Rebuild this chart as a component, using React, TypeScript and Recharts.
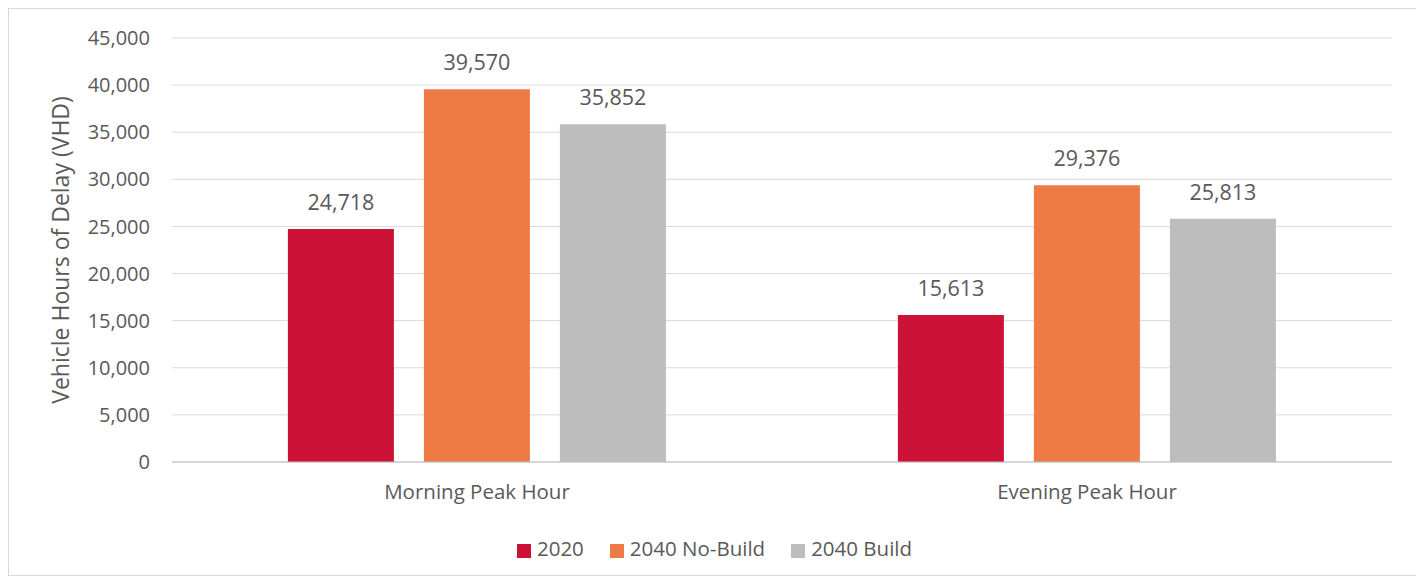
import { BarChart, Bar, XAxis, YAxis, CartesianGrid, Legend, LabelList } from 'recharts';

// Vehicle hours of delay, by peak period and scenario
const periods = ['Morning Peak Hour', 'Evening Peak Hour'];
const base2020 = [24718, 15613];
const noBuild2040 = [39570, 29376];
const build2040 = [35852, 25813];
const yTicks = [0, 5000, 10000, 15000, 20000, 25000, 30000, 35000, 40000, 45000];
const seriesOrder = ['2020', '2040 No-Build', '2040 Build'];

const data = periods.map((p, i) => ({
  period: p,
  y2020: base2020[i],
  noBuild: noBuild2040[i],
  build: build2040[i],
}));

const fmt = (v: number) => v.toLocaleString('en-US');
const font = '"Open Sans", sans-serif';
const textColor = '#595959';

const App = () => {
  return (
    <div style={{ width: 1408, height: 566, border: '1px solid #d9d9d9', fontFamily: font }}>
      <style>{`
        .recharts-legend-item { margin-right: 26px !important; }
        .recharts-legend-item:last-child { margin-right: 0 !important; }
        .recharts-legend-item svg { margin-right: 6px !important; }
      `}</style>
      <BarChart
        width={1408}
        height={566}
        data={data}
        margin={{ top: 29, right: 25, left: 28, bottom: 11 }}
        barCategoryGap="19%"
        barGap={30}
      >
        <CartesianGrid vertical={false} stroke="#d9d9d9" />
        <XAxis
          dataKey="period"
          height={72}
          tickLine={false}
          axisLine={{ stroke: '#bfbfbf' }}
          tickMargin={16}
          tick={{ fill: textColor, fontSize: 20.5, fontFamily: font }}
        />
        <YAxis
          width={135}
          domain={[0, 45000]}
          ticks={yTicks}
          interval={0}
          tickFormatter={fmt}
          tickLine={false}
          axisLine={false}
          tickMargin={16}
          tick={{ fill: textColor, fontSize: 20, fontFamily: font }}
          label={{
            value: 'Vehicle Hours of Delay (VHD)',
            angle: -90,
            position: 'insideLeft',
            offset: 24,
            style: { textAnchor: 'middle', fill: textColor, fontSize: 23, fontFamily: font },
          }}
        />
        <Legend
          verticalAlign="bottom"
          height={30}
          iconType="square"
          iconSize={14}
          itemSorter={(item: any) => seriesOrder.indexOf(item.value)}
          wrapperStyle={{ fontSize: 20.5, fontFamily: font, color: textColor }}
          formatter={(value) => <span style={{ color: textColor }}>{value}</span>}
        />
        <Bar dataKey="y2020" name="2020" fill="#CC1237" isAnimationActive={false}>
          <LabelList dataKey="y2020" position="top" offset={19} formatter={(v: any) => fmt(Number(v))} fill={textColor} fontSize={21.5} fontFamily={font} />
        </Bar>
        <Bar dataKey="noBuild" name="2040 No-Build" fill="#EE7A45" isAnimationActive={false}>
          <LabelList dataKey="noBuild" position="top" offset={19} formatter={(v: any) => fmt(Number(v))} fill={textColor} fontSize={21.5} fontFamily={font} />
        </Bar>
        <Bar dataKey="build" name="2040 Build" fill="#BDBDBD" isAnimationActive={false}>
          <LabelList dataKey="build" position="top" offset={19} formatter={(v: any) => fmt(Number(v))} fill={textColor} fontSize={21.5} fontFamily={font} />
        </Bar>
      </BarChart>
    </div>
  );
};

export default App;
